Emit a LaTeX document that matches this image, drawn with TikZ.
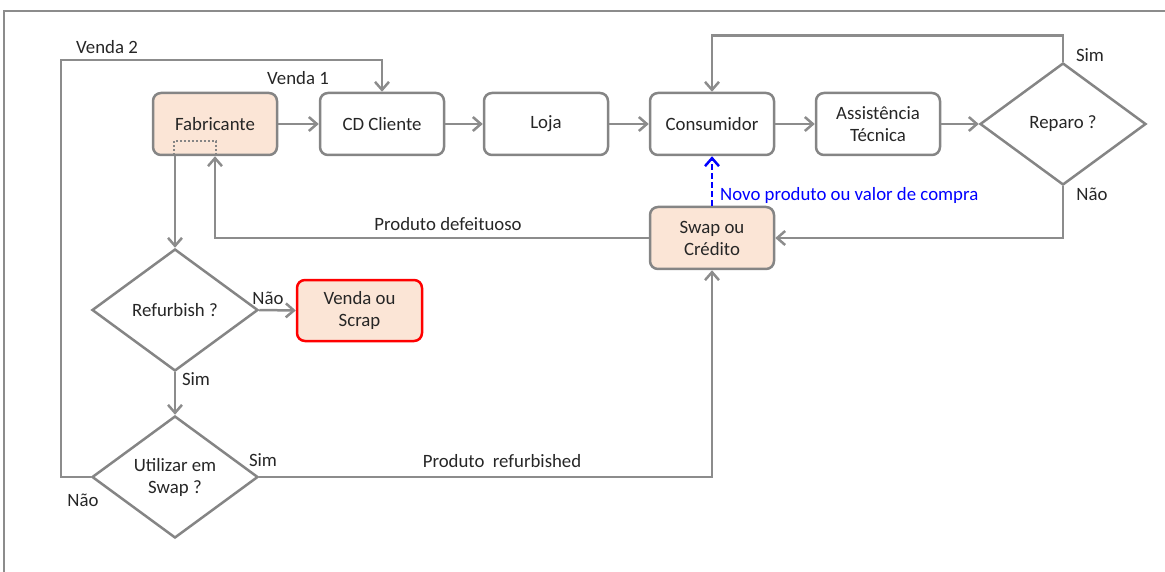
\documentclass[tikz,border=0pt]{standalone}
\usepackage{fontspec}
\setmainfont{Carlito}
\usetikzlibrary{arrows.meta,shapes.geometric}
\definecolor{lgray}{HTML}{8C8C8C}
\definecolor{bgray}{HTML}{858585}
\definecolor{peach}{HTML}{FBE5D6}
\definecolor{txt}{HTML}{262626}
\tikzset{
  box/.style={draw=bgray, line width=2.5pt, rounded corners=8pt, minimum width=124pt, minimum height=62pt, inner sep=0pt, align=center, fill=white, text=txt},
  peachbox/.style={box, fill=peach},
  decision/.style={diamond, draw=bgray, line width=2.5pt, minimum width=166pt, minimum height=122pt, inner sep=0pt, align=center, fill=white, text=txt},
  conn/.style={draw=lgray, line width=2.5pt, -{Straight Barb[length=8pt,width=14pt]}},
  lab/.style={text=txt, inner sep=0pt},
}
\begin{document}
\begin{tikzpicture}[x=1pt,y=-1pt,font=\fontsize{18.8}{22}\selectfont]
\useasboundingbox (0,0) rectangle (1165,572);
\draw[draw=lgray, line width=2pt] (4,573) -- (4,11) -- (1166,11);

\node[peachbox] (fab) at (215,124) {Fabricante};
\node[box] (cd) at (382,124) {CD Cliente};
\node[box] (loja) at (546,124) {Loja};
\node[box] (cons) at (712,124) {Consumidor};
\node[box] (assist) at (878,124) {Assistência\\Técnica};
\node[decision] (rep) at (1063,124) {Reparo ?};
\node[peachbox] (swap) at (712,238) {Swap ou\\Crédito};
\node[decision] (ref) at (175,310) {Refurbish ?};
\node[peachbox, draw=red, minimum width=125pt, minimum height=61pt] (vs) at (359.5,310.5) {Venda ou\\Scrap};
\node[decision] (util) at (175,477) {Utilizar em\\Swap ?};

\draw[bgray, dotted, line width=2pt] (174,155) -- (174,141) -- (216,141) -- (216,155);

\coordinate (v2) at (61,60);

\draw[conn] (fab) -- (cd);
\draw[conn] (cd) -- (loja);
\draw[conn] (loja) -- (cons);
\draw[conn] (cons) -- (assist);
\draw[conn] (assist) -- (rep);
\draw[conn] (rep.north) -- ++(0,-26) -| (cons.north);
\draw[conn] (rep.south) |- (swap.east);
\draw[conn, draw=blue, dashed, dash pattern=on 6pt off 3pt] (swap.north) -- (cons.south);
\draw[conn] (swap.west) -| (fab.south);
\draw[conn] (fab.south -| ref.north) -- (ref.north);
\draw[conn] (ref.east) -- (vs.west);
\draw[conn] (ref.south) -- (util.north);
\draw[conn] (util.east) -| (swap.south);
\draw[conn] (util.west) -| (v2) -| (cd.north);

\node[lab] (lv2) at (107,47) {Venda 2};
\node[lab] (lv1) at (298,78) {Venda 1};
\node[lab] (lrs) at (1090,55) {Sim};
\node[lab] (lrn) at (1092,194) {Não};
\node[lab] (lpd) at (448,224) {Produto defeituoso};
\node[lab, text=blue, anchor=west] (lnp) at (720,195) {Novo produto ou valor de compra};
\node[lab] (lfn) at (268,298) {Não};
\node[lab] (lfs) at (196,379) {Sim};
\node[lab] (lus) at (263,460) {Sim};
\node[lab] (lpr) at (502,461) {Produto\hspace{0.45em}refurbished};
\node[lab] (lun) at (83,500) {Não};
\end{tikzpicture}
\end{document}
